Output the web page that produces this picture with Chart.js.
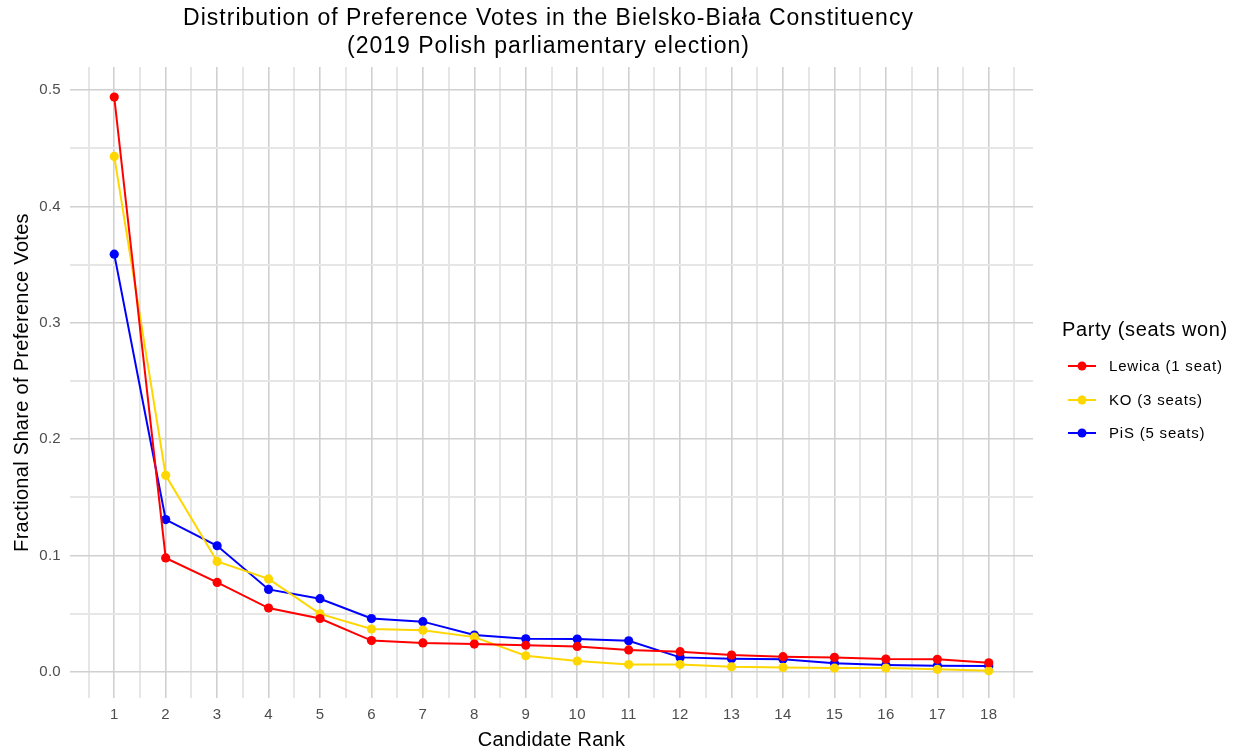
<!DOCTYPE html>
<html>
<head>
<meta charset="utf-8">
<title>Preference votes - Bielsko-Biała</title>
<script src="https://cdn.jsdelivr.net/npm/chart.js@4.4.1/dist/chart.umd.min.js"></script>
<style>
  html, body { margin: 0; padding: 0; background: #ffffff; }
</style>
</head>
<body>
<canvas id="prefChart" width="1239" height="750"></canvas>
<script>
// candidate rank within each list
const ranks = [1, 2, 3, 4, 5, 6, 7, 8, 9, 10, 11, 12, 13, 14, 15, 16, 17, 18];

// fractional share of the list's preference votes, by rank
const lewicaShare = [0.494, 0.098, 0.077, 0.055, 0.046, 0.027, 0.025, 0.024, 0.023, 0.022, 0.019, 0.0175, 0.0146, 0.0132, 0.0126, 0.0112, 0.0109, 0.008];
const koShare     = [0.443, 0.169, 0.095, 0.080, 0.050, 0.037, 0.036, 0.030, 0.014, 0.0095, 0.0065, 0.0065, 0.0045, 0.004, 0.0034, 0.0034, 0.0023, 0.0012];
const pisShare    = [0.359, 0.131, 0.1085, 0.071, 0.063, 0.046, 0.0433, 0.0318, 0.0286, 0.0284, 0.0269, 0.0126, 0.0115, 0.0109, 0.0075, 0.006, 0.0054, 0.0052];

const partyNames  = ['Lewica (1 seat)', 'KO (3 seats)', 'PiS (5 seats)'];
const partyColors = ['#ff0000', '#ffd700', '#0000ff'];
const yTickLabels = [0, 0.1, 0.2, 0.3, 0.4, 0.5];

const chartTitle = ['Distribution of Preference Votes in the Bielsko-Biała Constituency',
                    '(2019 Polish parliamentary election)'];
const legendTitle = 'Party (seats won)';

const FONT = '"Liberation Sans", Arial, Helvetica, sans-serif';
const majorGrid = '#d0d0d0';
const minorGrid = '#e6e6e6';

function toPoints(values) {
    return ranks.map((r, i) => ({ x: r, y: values[i] }));
}

function isYLabel(v) {
    return yTickLabels.some(t => Math.abs(t - v) < 1e-6);
}

// a touch of letter spacing for the library's own text (ticks, axis titles)
const spacingPlugin = {
    id: 'spacing',
    beforeUpdate(chart) { chart.ctx.letterSpacing = '0.3px'; },
    beforeDraw(chart) { chart.ctx.letterSpacing = '0.3px'; }
};

// two-line title, centred over the plot panel
const titlePlugin = {
    id: 'panelTitle',
    afterDraw(chart) {
        const { ctx, chartArea } = chart;
        const cx = (chartArea.left + chartArea.right) / 2 - 3;
        ctx.save();
        ctx.letterSpacing = '1px';
        ctx.font = '23px ' + FONT;
        ctx.fillStyle = '#000000';
        ctx.textAlign = 'center';
        ctx.textBaseline = 'middle';
        ctx.fillText(chartTitle[0], cx, 19);
        ctx.fillText(chartTitle[1], cx, 46.5);
        ctx.restore();
    }
};

// legend on the right: line + dot key like the original
const legendPlugin = {
    id: 'sideLegend',
    afterDraw(chart) {
        const ctx = chart.ctx;
        ctx.save();
        ctx.letterSpacing = '0.6px';
        ctx.font = '20px ' + FONT;
        ctx.fillStyle = '#000000';
        ctx.textAlign = 'left';
        ctx.textBaseline = 'middle';
        ctx.fillText(legendTitle, 1062, 330);

        const rows = [366, 400, 433];
        ctx.letterSpacing = '0.8px';
        ctx.font = '15px ' + FONT;
        partyNames.forEach((name, i) => {
            const y = rows[i];
            ctx.strokeStyle = partyColors[i];
            ctx.lineWidth = 2;
            ctx.beginPath();
            ctx.moveTo(1068, y);
            ctx.lineTo(1096, y);
            ctx.stroke();
            ctx.fillStyle = partyColors[i];
            ctx.beginPath();
            ctx.arc(1082, y, 4.5, 0, Math.PI * 2);
            ctx.fill();
            ctx.fillStyle = '#000000';
            ctx.fillText(name, 1109, y + 1);
        });
        ctx.restore();
    }
};

function makeDataset(label, values, color) {
    return {
        label: label,
        data: toPoints(values),
        borderColor: color,
        backgroundColor: color,
        borderWidth: 2,
        pointRadius: 4.6,
        pointBorderWidth: 0,
        pointHoverRadius: 4.6,
        tension: 0
    };
}

function initChart() {
    const ctx = document.getElementById('prefChart').getContext('2d');
    new Chart(ctx, {
        type: 'line',
        data: {
            datasets: [
                makeDataset(partyNames[0], lewicaShare, partyColors[0]),
                makeDataset(partyNames[1], koShare, partyColors[1]),
                makeDataset(partyNames[2], pisShare, partyColors[2])
            ]
        },
        options: {
            responsive: false,
            animation: false,
            events: [],
            layout: { padding: { top: 67, right: 206, left: 0, bottom: 0 } },
            plugins: {
                legend: { display: false },
                title: { display: false },
                tooltip: { enabled: false }
            },
            scales: {
                x: {
                    type: 'linear',
                    min: 0.14,
                    max: 18.86,
                    afterFit: (scale) => { scale.height = 52; },
                    border: { display: false },
                    grid: {
                        drawTicks: false,
                        color: (c) => Number.isInteger(c.tick.value) ? majorGrid : minorGrid,
                        lineWidth: (c) => Number.isInteger(c.tick.value) ? 1.6 : 2
                    },
                    ticks: {
                        stepSize: 0.5,
                        includeBounds: false,
                        autoSkip: false,
                        maxRotation: 0,
                        padding: 8,
                        color: '#4d4d4d',
                        font: { family: FONT, size: 15 },
                        callback: (v) => Number.isInteger(v) ? String(v) : ''
                    },
                    title: {
                        display: true,
                        text: 'Candidate Rank',
                        color: '#000000',
                        font: { family: FONT, size: 20, lineHeight: 1 },
                        padding: { top: 0, bottom: 0 }
                    }
                },
                y: {
                    min: -0.0223,
                    max: 0.5198,
                    afterFit: (scale) => { scale.width = 70; },
                    border: { display: false },
                    grid: {
                        drawTicks: false,
                        color: (c) => isYLabel(c.tick.value) ? majorGrid : minorGrid,
                        lineWidth: (c) => isYLabel(c.tick.value) ? 1.6 : 2
                    },
                    ticks: {
                        stepSize: 0.05,
                        includeBounds: false,
                        autoSkip: false,
                        padding: 9,
                        color: '#4d4d4d',
                        font: { family: FONT, size: 15 },
                        callback: (v) => isYLabel(v) ? v.toFixed(1) : ''
                    },
                    title: {
                        display: true,
                        text: 'Fractional Share of Preference Votes',
                        color: '#000000',
                        font: { family: FONT, size: 20, lineHeight: 1 },
                        padding: { top: 12, bottom: 0 }
                    }
                }
            }
        },
        plugins: [spacingPlugin, titlePlugin, legendPlugin]
    });
}

window.addEventListener('load', initChart);
</script>
</body>
</html>
